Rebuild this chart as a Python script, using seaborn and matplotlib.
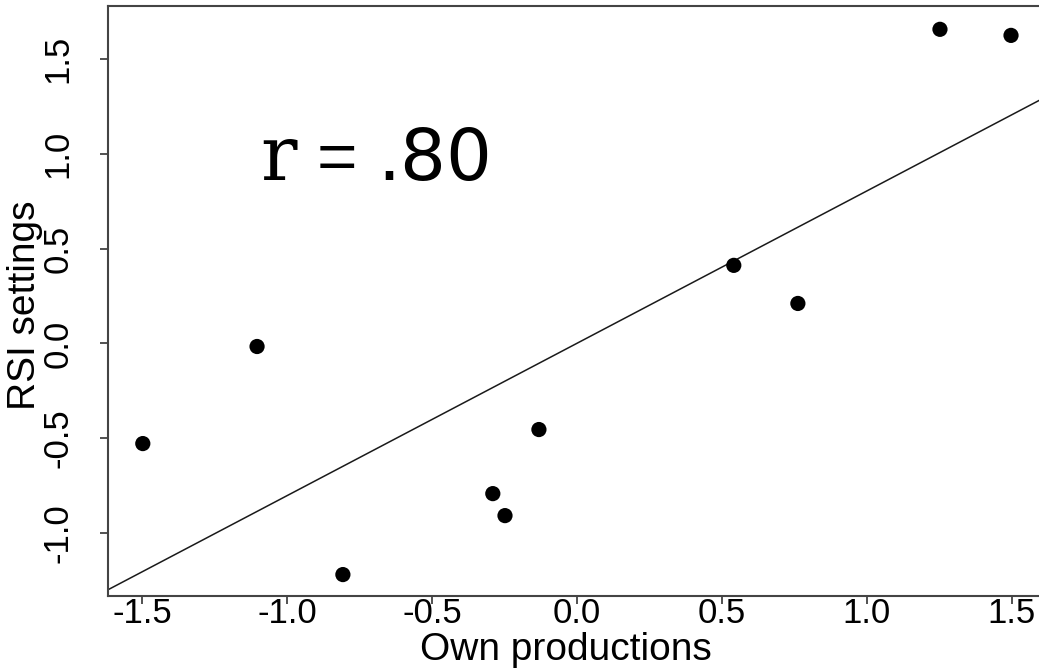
import matplotlib
matplotlib.use("Agg")
import matplotlib.pyplot as plt
import seaborn as sns
import numpy as np
import pandas as pd

# Data (z-scores)
own_productions = [-1.497, -1.103, -0.807, -0.290, -0.248, -0.131, 0.541, 0.762, 1.252, 1.497]
rsi_settings = [-0.528, -0.016, -1.219, -0.792, -0.908, -0.454, 0.412, 0.211, 1.657, 1.625]
x_ticks = [-1.5, -1.0, -0.5, 0.0, 0.5, 1.0, 1.5]
y_ticks = [-1.0, -0.5, 0.0, 0.5, 1.0, 1.5]
x_label = "Own productions"
y_label = "RSI settings"
annotation_r = "r"
annotation_eq = "="
annotation_val = ".80"

df = pd.DataFrame({"x": own_productions, "y": rsi_settings})

sns.set_style("white")
plt.rcParams["font.family"] = ["Liberation Sans", "DejaVu Sans"]
plt.rcParams["text.color"] = "black"
plt.rcParams["axes.labelcolor"] = "black"
plt.rcParams["xtick.color"] = "black"
plt.rcParams["ytick.color"] = "black"

fig = plt.figure(figsize=(10.39, 6.70), dpi=100)
ax = fig.add_axes([108 / 1039, 74 / 670, (1049 - 108) / 1039, 590 / 670])

xlim = (-1.617, 1.628)
ylim = (-1.332, 1.780)
ax.set_xlim(*xlim)
ax.set_ylim(*ylim)

sns.regplot(data=df, x="x", y="y", ax=ax, ci=None, truncate=False,
            scatter_kws=dict(s=120, color="black", edgecolors="none", alpha=1, zorder=3),
            line_kws=dict(color="#1a1a1a", lw=1.1))
ax.set_xlim(*xlim)
ax.set_ylim(*ylim)

ax.set_xticks(x_ticks)
ax.set_xticklabels([f"{v:.1f}" for v in x_ticks], fontsize=25)
ax.set_yticks(y_ticks)
ax.set_yticklabels([f"{v:.1f}" for v in y_ticks], fontsize=25, rotation=90, va="center")

ax.tick_params(axis="both", direction="out", length=6, width=1.2, color="#333333")
ax.tick_params(axis="x", pad=-5, bottom=True)
ax.tick_params(axis="y", pad=18, left=True)

for sp in ax.spines.values():
    sp.set_visible(True)
    sp.set_color("#444444")
    sp.set_linewidth(1.5)

ax.set_xlabel(x_label, fontsize=28, labelpad=2)
ax.set_ylabel(y_label, fontsize=28, labelpad=0)
ax.xaxis.set_label_coords((566 - 108) / (1049 - 108), -(660 - 596) / 590)
ax.xaxis.label.set_va("baseline")
ax.yaxis.set_label_coords((25 - 108) / (1049 - 108), (596 - 305) / 590)
ax.yaxis.label.set_va("center")

base_y = 1 - 180 / 670
fig.text(260 / 1039, base_y, annotation_r, fontsize=55,
         family=["DejaVu Serif"], va="baseline", ha="left")
fig.text(317 / 1039, base_y, annotation_eq, fontsize=50,
         family=["Liberation Sans"], va="baseline", ha="left")
fig.text(377 / 1039, base_y, annotation_val, fontsize=52,
         family=["DejaVu Sans"], va="baseline", ha="left")

fig.savefig("out.png", dpi=100)
